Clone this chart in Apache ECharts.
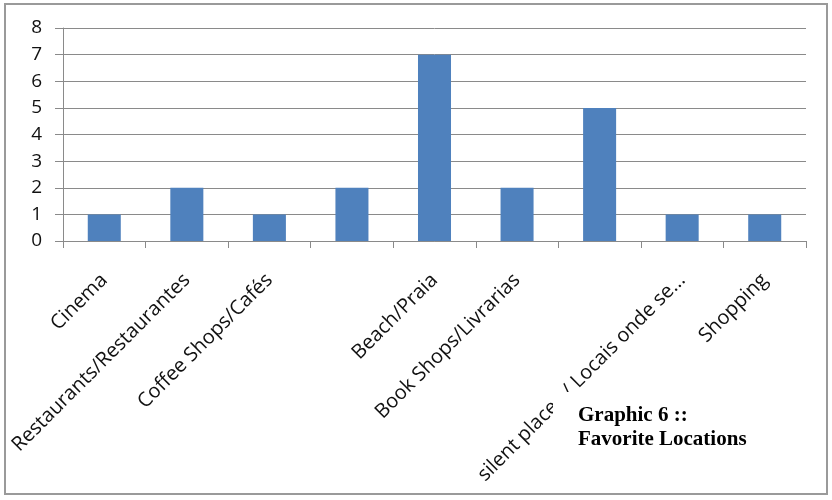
<!DOCTYPE html>
<html>
<head>
<meta charset="utf-8">
<script src="https://cdn.jsdelivr.net/npm/echarts@6/dist/echarts.min.js"></script>
<style>
  html, body { margin: 0; padding: 0; background: #ffffff; }
  #chart { width: 832px; height: 500px; }
</style>
</head>
<body>
<div id="chart"></div>
<script>
// Favourite locations survey: number of answers per place
const categories = [
  'Cinema',
  'Restaurants/Restaurantes',
  'Coffee Shops/Cafés',
  '',
  'Beach/Praia',
  'Book Shops/Livrarias',
  '',
  'silent places / Locais onde se...',
  'Shopping'
];
const counts = [1, 2, 1, 2, 7, 2, 5, 1, 1];
const yTicks = [0, 1, 2, 3, 4, 5, 6, 7, 8];
const titleLines = ['Graphic 6 ::', 'Favorite Locations'];

const chart = echarts.init(document.getElementById('chart'), null, { renderer: 'canvas' });

const gridColor = '#8a8a8a';
const labelFont = '"Open Sans", "DejaVu Sans", sans-serif';

chart.setOption({
  animation: false,
  backgroundColor: '#ffffff',
  grid: { left: 63, right: 26, top: 28, bottom: 259, containLabel: false },
  xAxis: {
    type: 'category',
    data: categories,
    axisLine: { show: true, lineStyle: { color: gridColor, width: 1 } },
    axisTick: { show: true, length: 7, alignWithLabel: false, lineStyle: { color: gridColor } },
    axisLabel: {
      interval: 0,
      rotate: 45,
      margin: 36,
      color: '#111111',
      fontFamily: labelFont,
      fontSize: 20
    },
    splitLine: { show: false }
  },
  yAxis: {
    type: 'value',
    min: yTicks[0],
    max: yTicks[yTicks.length - 1],
    interval: 1,
    axisLine: { show: true, lineStyle: { color: gridColor, width: 1 } },
    axisTick: { show: true, length: 8, lineStyle: { color: gridColor } },
    axisLabel: {
      margin: 21,
      color: '#111111',
      fontFamily: labelFont,
      fontSize: 19
    },
    splitLine: { show: true, lineStyle: { color: gridColor, width: 1 } }
  },
  series: [{
    type: 'bar',
    data: counts,
    barWidth: '40%',
    itemStyle: { color: '#4f81bd' }
  }],
  graphic: [
    {
      type: 'rect',
      z: 100,
      silent: true,
      shape: { x: 5, y: 4, width: 822, height: 490 },
      style: { fill: null, stroke: '#9a9a9a', lineWidth: 2 }
    },
    {
      type: 'rect',
      z: 110,
      silent: true,
      shape: { x: 553, y: 392, width: 235, height: 100 },
      style: { fill: '#ffffff', stroke: null }
    },
    {
      type: 'text',
      z: 120,
      silent: true,
      left: 578,
      top: 404,
      style: {
        text: titleLines.join('\n'),
        fill: '#000000',
        font: 'bold 21px "Liberation Serif", "Times New Roman", serif',
        lineHeight: 24
      }
    }
  ]
});
</script>
</body>
</html>
